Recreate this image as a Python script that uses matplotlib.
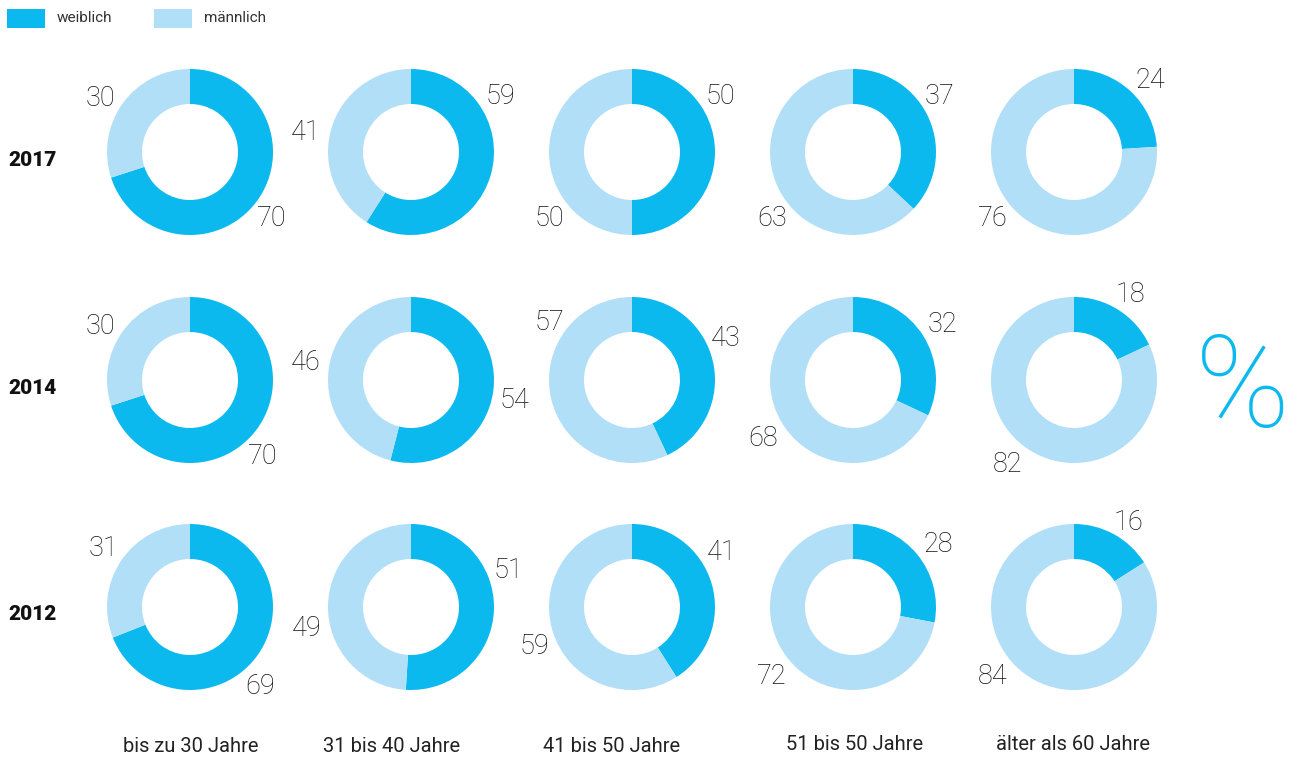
import matplotlib
matplotlib.use("Agg")
import matplotlib.pyplot as plt
from matplotlib.patches import Rectangle

# Share of women and men per age group and survey year (percent)
years = ["2017", "2014", "2012"]
age_groups = ["bis zu 30 Jahre", "31 bis 40 Jahre", "41 bis 50 Jahre",
              "51 bis 50 Jahre", "älter als 60 Jahre"]
weiblich = [
    [70, 59, 50, 37, 24],   # 2017
    [70, 54, 43, 32, 18],   # 2014
    [69, 51, 41, 28, 16],   # 2012
]
maennlich = [
    [30, 41, 50, 63, 76],
    [30, 46, 57, 68, 82],
    [31, 49, 59, 72, 84],
]
series_names = ["weiblich", "männlich"]

# Layout (pixel units, origin top-left)
W, H = 1298, 760
col_x = [190, 411, 632, 853, 1074]
row_y = [152, 380, 607]
r_out, r_in = 83, 48
c_w = "#0cb9ee"
c_m = "#b1dff7"

# Value label offsets from each donut centre: (weiblich), (männlich)
label_off = [
    [((82, 65), (-90, -55)), ((89, -58), (-105, -22)), ((88, -58), (-83, 65)),
     ((87, -58), (-81, 65)), ((76, -73), (-81, 65))],
    [((73, 75), (-90, -56)), ((103, 19), (-105, -19)), ((94, -44), (-83, -59)),
     ((89, -58), (-90, 57)), ((56, -88), (-66, 82))],
    [((70, 77), (-86, -60)), ((97, -38), (-104, 20)), ((90, -57), (-98, 38)),
     ((85, -65), (-81, 67)), ((54, -87), (-81, 67))],
]
group_label_y = [747, 747, 747, 744, 744]
group_label_x = [191, 392, 612, 855, 1073]

plt.rcParams["font.family"] = ["Roboto", "DejaVu Sans"]

fig = plt.figure(figsize=(W / 100, H / 100), dpi=100)
ax = fig.add_axes([0, 0, 1, 1])


def Y(py):
    return H - py


for i, yr in enumerate(years):
    cy = row_y[i]
    for j in range(len(age_groups)):
        cx = col_x[j]
        vals = [weiblich[i][j], maennlich[i][j]]
        ax.pie(vals, colors=[c_w, c_m], startangle=90, counterclock=False,
               center=(cx, Y(cy)), radius=r_out,
               wedgeprops=dict(width=r_out - r_in, linewidth=0))
        for v, (dx, dy) in zip(vals, label_off[i][j]):
            ax.text(cx + dx, Y(cy + dy + 2), f"{v}", ha="center", va="center",
                    fontsize=19.5, fontweight="light", color="#111111")
    ax.text(8, Y(cy + 8), yr, ha="left", va="center", fontsize=15,
            fontweight="heavy", color="#111111")

for j, name in enumerate(age_groups):
    ax.text(group_label_x[j], Y(group_label_y[j]), name, ha="center",
            va="center", fontsize=14.5, color="#222222")

# Legend
for k, (name, col) in enumerate(zip(series_names, [c_w, c_m])):
    x0 = 7 + k * 147
    ax.add_patch(Rectangle((x0, Y(28)), 38, 19, facecolor=col, edgecolor="none"))
    ax.text(x0 + 50, Y(18), name, ha="left", va="center", fontsize=11,
            color="#333333")

# Unit sign
ax.text(1243, Y(392), "%", ha="center", va="center", fontsize=92,
        fontweight="light", color=c_w)

ax.set_xlim(0, W)
ax.set_ylim(0, H)
ax.set_aspect("auto")
ax.axis("off")

fig.savefig("out.png", dpi=100)
